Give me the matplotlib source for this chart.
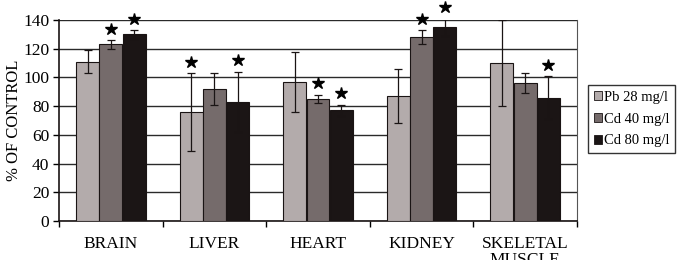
import matplotlib
matplotlib.use("Agg")
import matplotlib.pyplot as plt
import numpy as np
from matplotlib.patches import Patch

plt.rcParams['font.family'] = ['Liberation Serif', 'DejaVu Serif']

categories = ["BRAIN", "LIVER", "HEART", "KIDNEY", "SKELETAL\nMUSCLE"]
series = ["Pb 28 mg/l", "Cd 40 mg/l", "Cd 80 mg/l"]
pb28 = [111, 76, 97, 87, 110]
cd40 = [123, 92, 85, 128, 96]
cd80 = [130, 83, 77, 135, 86]
pb28_err = [8, 27, 21, 19, 30]
cd40_err = [3, 11, 3, 5, 7]
cd80_err = [3, 21, 4, 6, 15]
pb28_star = [False, True, False, False, False]
cd40_star = [True, False, True, True, False]
cd80_star = [True, True, True, True, True]

values = [pb28, cd40, cd80]
errors = [pb28_err, cd40_err, cd80_err]
stars = [pb28_star, cd40_star, cd80_star]
colors = ["#b3abab", "#756b6b", "#1b1515"]

fig = plt.figure(figsize=(6.8, 2.6), dpi=100)
ax = fig.add_axes([59/680, 1-221/260, (577-59)/680, (221-20)/260])

x = np.arange(len(categories))
w = 0.222
offs = [-0.224, 0.0, 0.224]
for s in range(3):
    ax.bar(x + offs[s], values[s], w, color=colors[s], edgecolor="#1a1414",
           linewidth=0.8, zorder=3)
    ax.errorbar(x + offs[s], values[s], yerr=errors[s], fmt='none',
                ecolor="#1a1414", elinewidth=0.9, capsize=3, capthick=0.9, zorder=4)
    for i in range(len(categories)):
        if stars[s][i]:
            ax.plot(x[i] + offs[s], values[s][i] + errors[s][i] + 8, marker='*',
                    color='black', markersize=9, clip_on=False, zorder=5)

ax.set_xlim(-0.5, len(categories) - 0.5)
ax.set_ylim(0, 140)
ax.set_yticks(np.arange(0, 141, 20))
ax.yaxis.grid(True, color="#2a2a2a", linewidth=1.0, zorder=0)
ax.set_axisbelow(True)
ax.set_xticks(x)
ax.set_xticklabels(categories, fontsize=12.5, linespacing=0.95)
ax.set_xticks(np.arange(-0.5, len(categories), 1), minor=True)
ax.tick_params(axis='x', which='major', length=0, pad=11)
ax.tick_params(axis='x', which='minor', length=4, width=1, direction='out')
ax.tick_params(axis='y', length=4, width=1, labelsize=12.5, pad=3)
ax.set_ylabel("% OF CONTROL", fontsize=12, labelpad=1)
for sp in ['left', 'bottom']:
    ax.spines[sp].set_linewidth(1.2)
    ax.spines[sp].set_color("#1a1414")
ax.spines['right'].set_color("#555555")
ax.spines['right'].set_linewidth(0.8)
ax.spines['top'].set_visible(False)

handles = [Patch(facecolor=colors[s], edgecolor="#1a1414", linewidth=0.6) for s in range(3)]
leg = fig.legend(handles, series, loc='upper left', bbox_to_anchor=(588/680, 1-85/260),
                 fontsize=10.5, frameon=True, fancybox=False, edgecolor='black',
                 handlelength=0.55, handleheight=0.55, handletextpad=0.15,
                 borderpad=0.4, labelspacing=0.6, borderaxespad=0)
leg.get_frame().set_linewidth(1.0)

fig.savefig("out.png", dpi=100)
